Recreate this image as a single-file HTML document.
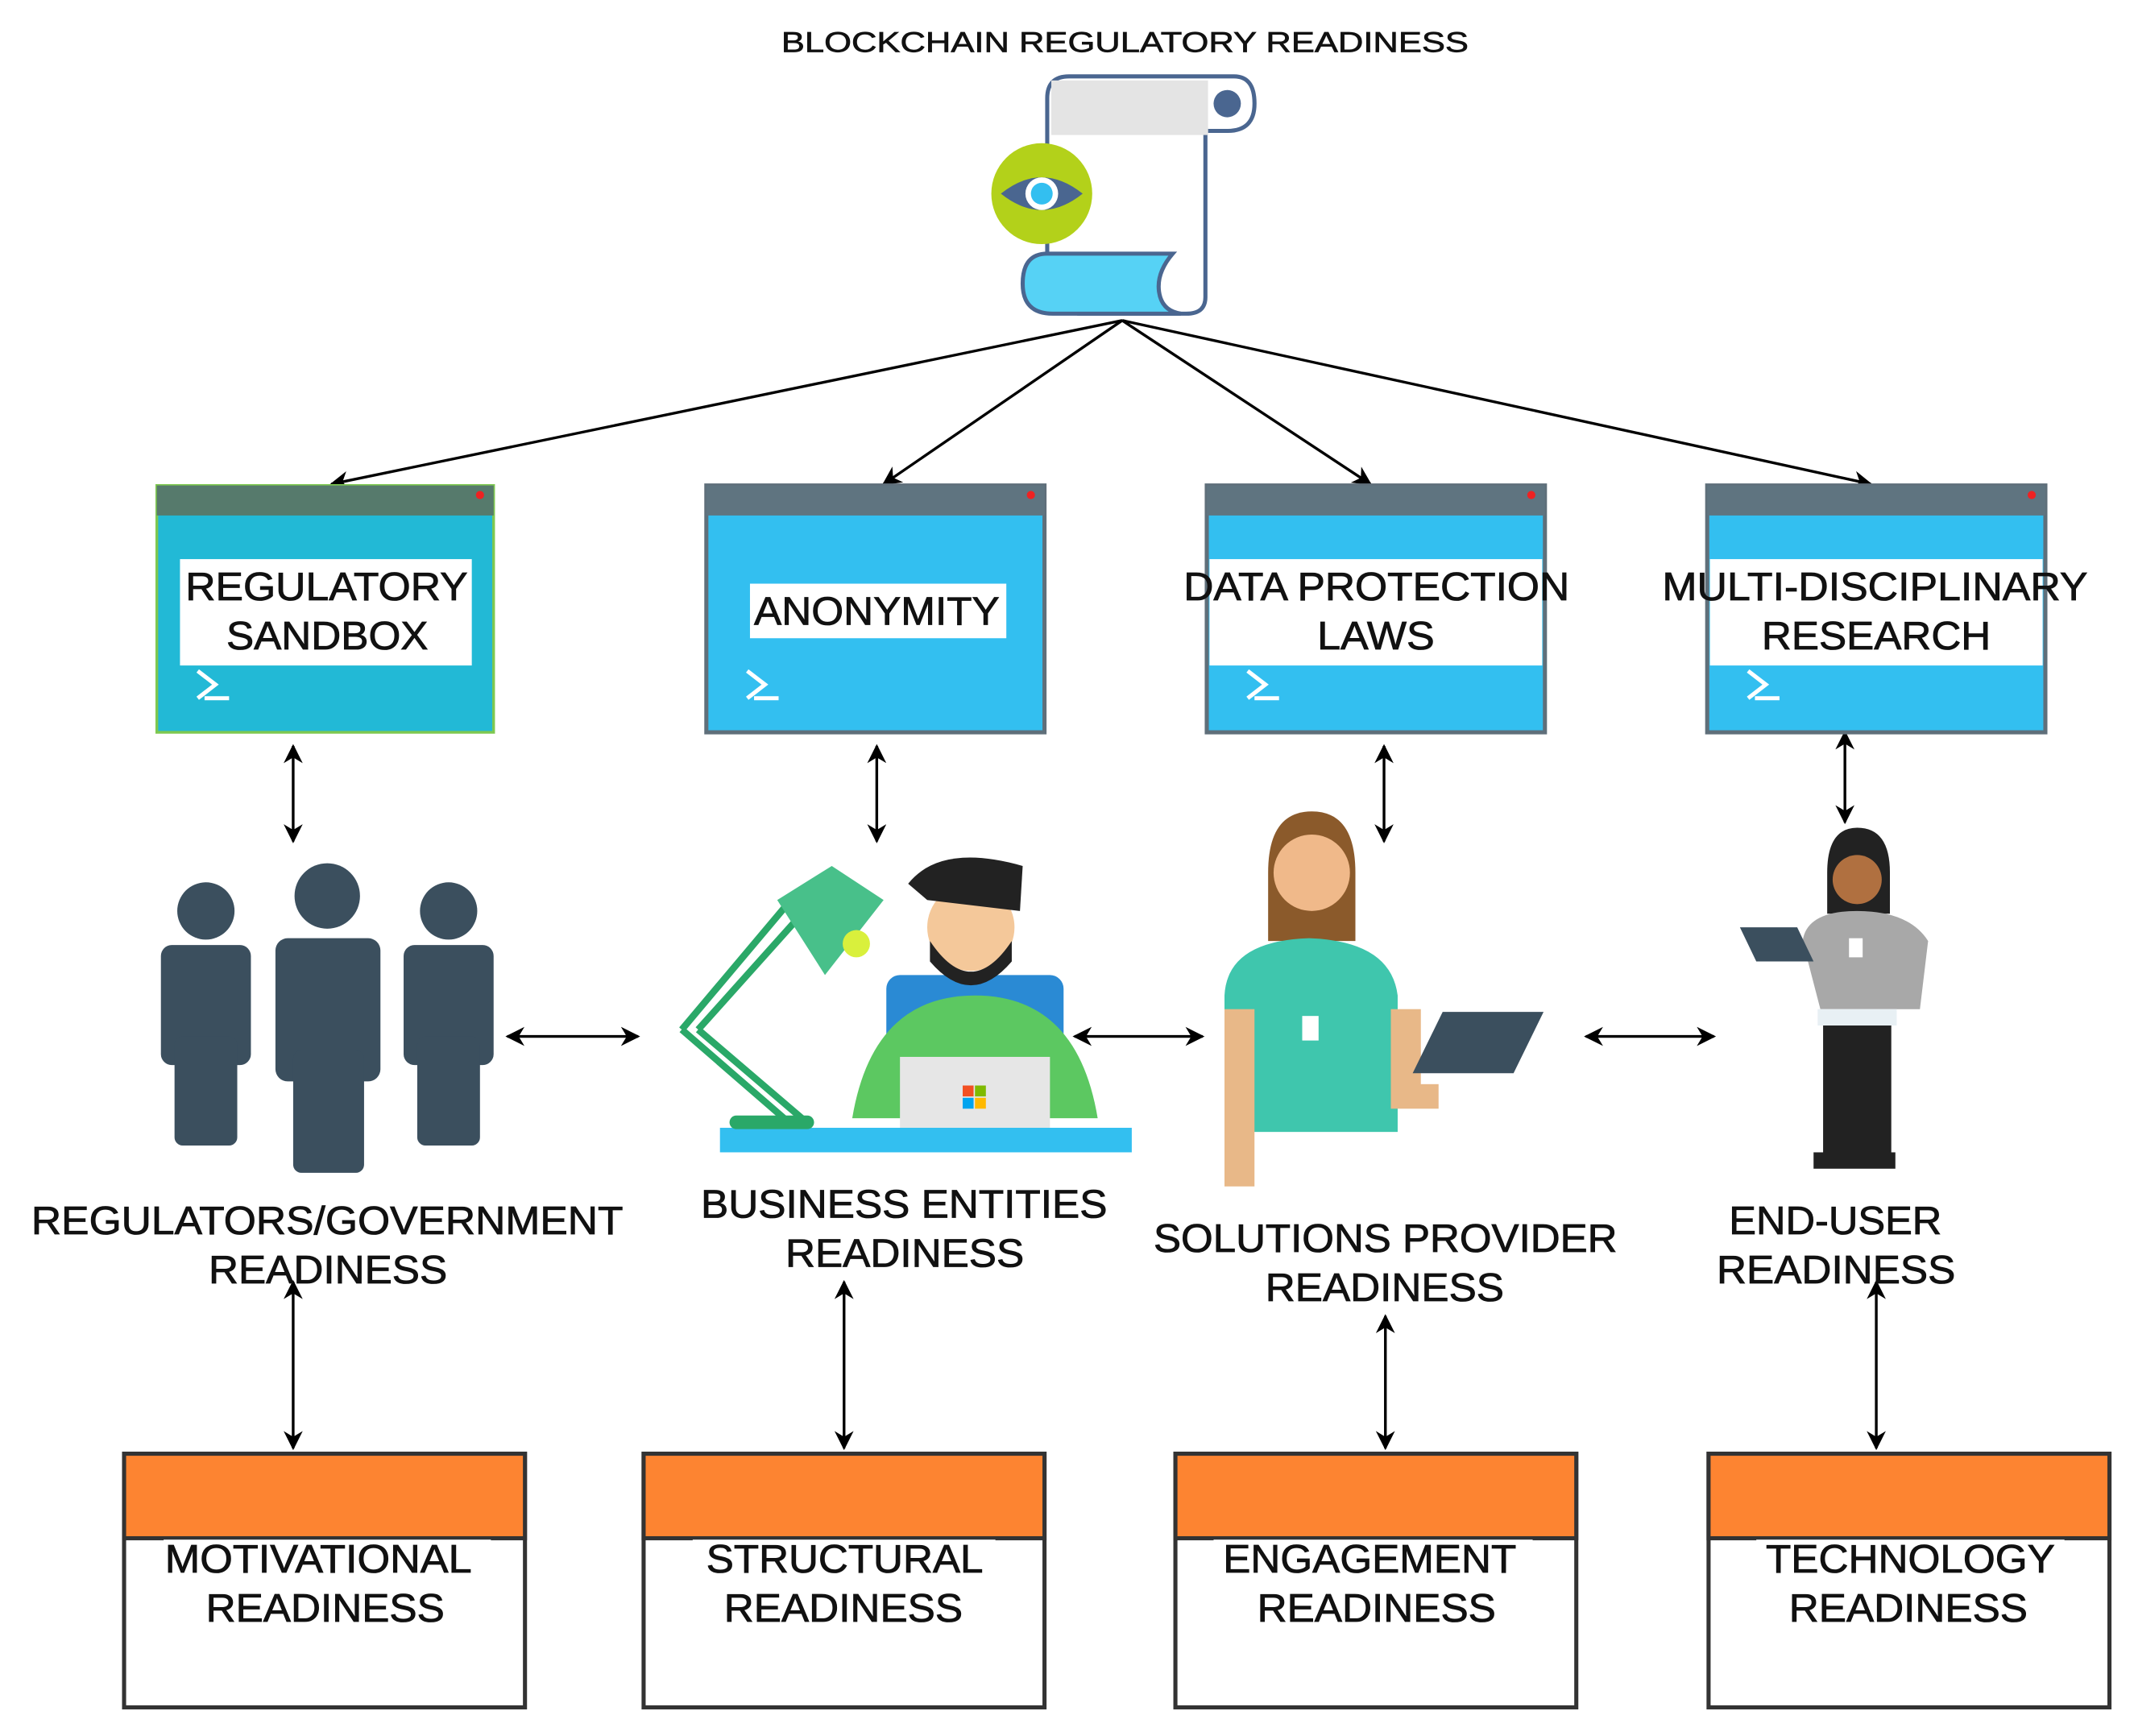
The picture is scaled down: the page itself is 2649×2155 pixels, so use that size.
<!DOCTYPE html>
<html><head><meta charset="utf-8"><style>html,body{margin:0;padding:0;background:#fff}svg{display:block}</style></head>
<body>
<svg width="2649" height="2155" viewBox="0 0 1565 1273" preserveAspectRatio="none" xmlns="http://www.w3.org/2000/svg" font-family="Liberation Sans, sans-serif">
<defs>
<marker id="a" viewBox="0 0 10 10" refX="9" refY="5" markerWidth="7" markerHeight="7" orient="auto-start-reverse"><path d="M0,0 L10,5 L0,10 L3,5 z" fill="#000"/></marker>
</defs>
<rect width="1565" height="1273" fill="#fff"/>
<text x="573" y="38" font-size="21" textLength="504" lengthAdjust="spacingAndGlyphs" fill="#111" stroke="#111" stroke-width="0.4">BLOCKCHAIN REGULATORY READINESS</text>
<!-- scroll -->
<path d="M768,218 V72 Q768,56 784,56 H905 Q920,56 920,76 Q920,96 900,96 H884 V218 Q884,230 870,230 H790" fill="#fff" stroke="#4a6690" stroke-width="3"/>
<rect x="771" y="59" width="115" height="40" fill="#e4e4e4"/>
<path d="M886,59 H905 Q917,59 917,76 Q917,93 900,93 H886 z" fill="#fff"/>
<circle cx="900" cy="76" r="10" fill="#4a6690"/>
<path d="M768,186 H860 Q848,200 850,214 Q852,228 866,230 H772 Q750,230 750,208 Q750,186 768,186 z" fill="#56d2f5" stroke="#4a6690" stroke-width="3"/>
<circle cx="764" cy="142" r="37" fill="#b3d11a"/>
<path d="M734,142 Q764,118 794,142 Q764,166 734,142 z" fill="#4a6690"/>
<circle cx="764" cy="142" r="12" fill="#fff"/><circle cx="764" cy="142" r="8" fill="#33bff0"/>
<g stroke="#000" stroke-width="2" fill="none" marker-end="url(#a)">
<line x1="823" y1="235" x2="243" y2="355"/><line x1="823" y1="235" x2="648" y2="355"/>
<line x1="823" y1="235" x2="1005" y2="355"/><line x1="823" y1="235" x2="1372" y2="355"/>
<line x1="215" y1="547" x2="215" y2="617" marker-start="url(#a)"/>
<line x1="643" y1="547" x2="643" y2="617" marker-start="url(#a)"/>
<line x1="1015" y1="547" x2="1015" y2="617" marker-start="url(#a)"/>
<line x1="1353" y1="537" x2="1353" y2="603" marker-start="url(#a)"/>
<line x1="372" y1="760" x2="468" y2="760" marker-start="url(#a)"/>
<line x1="788" y1="760" x2="882" y2="760" marker-start="url(#a)"/>
<line x1="1163" y1="760" x2="1257" y2="760" marker-start="url(#a)"/>
<line x1="215" y1="940" x2="215" y2="1062" marker-start="url(#a)"/>
<line x1="619" y1="940" x2="619" y2="1062" marker-start="url(#a)"/>
<line x1="1016" y1="965" x2="1016" y2="1062" marker-start="url(#a)"/>
<line x1="1376" y1="940" x2="1376" y2="1062" marker-start="url(#a)"/>
</g>
<g>
<rect x="115" y="356" width="247" height="181" fill="#22b9d6" stroke="#7ec850" stroke-width="2"/>
<rect x="115" y="356" width="247" height="22" fill="#567a6c"/>
<rect x="518" y="356" width="248" height="181" fill="#33bff0" stroke="#5f6f7a" stroke-width="3"/>
<rect x="518" y="356" width="248" height="22" fill="#5f7480"/>
<rect x="885" y="356" width="248" height="181" fill="#33bff0" stroke="#5f6f7a" stroke-width="3"/>
<rect x="885" y="356" width="248" height="22" fill="#5f7480"/>
<rect x="1252" y="356" width="248" height="181" fill="#33bff0" stroke="#5f6f7a" stroke-width="3"/>
<rect x="1252" y="356" width="248" height="22" fill="#5f7480"/>
<circle cx="352" cy="363" r="3" fill="#e22"/><circle cx="756" cy="363" r="3" fill="#e22"/><circle cx="1123" cy="363" r="3" fill="#e22"/><circle cx="1490" cy="363" r="3" fill="#e22"/>
<rect x="132" y="410" width="214" height="78" fill="#fff"/>
<rect x="550" y="428" width="188" height="40" fill="#fff"/>
<rect x="887" y="410" width="244" height="78" fill="#fff"/>
<rect x="1254" y="410" width="244" height="78" fill="#fff"/>
<g stroke="#fff" stroke-width="3" fill="none">
<path d="M145,492 L158,502 L145,512 M150,512 H168"/><path d="M548,492 L561,502 L548,512 M553,512 H571"/>
<path d="M915,492 L928,502 L915,512 M920,512 H938"/><path d="M1282,492 L1295,502 L1282,512 M1287,512 H1305"/>
</g>
</g>
<g font-size="29" fill="#111" stroke="#111" stroke-width="0.5" lengthAdjust="spacingAndGlyphs">
<text x="136" y="440" textLength="207" lengthAdjust="spacingAndGlyphs">REGULATORY</text><text x="166" y="476" textLength="148" lengthAdjust="spacingAndGlyphs">SANDBOX</text>
<text x="553" y="458" textLength="180" lengthAdjust="spacingAndGlyphs">ANONYMITY</text>
<text x="868" y="440" textLength="283" lengthAdjust="spacingAndGlyphs">DATA PROTECTION</text><text x="966" y="476" textLength="86" lengthAdjust="spacingAndGlyphs">LAWS</text>
<text x="1219" y="440" textLength="312" lengthAdjust="spacingAndGlyphs">MULTI-DISCIPLINARY</text><text x="1292" y="476" textLength="168" lengthAdjust="spacingAndGlyphs">RESEARCH</text>
</g>
<g fill="#3b4f5e">
<circle cx="151" cy="668" r="21"/><rect x="118" y="693" width="66" height="88" rx="8"/><rect x="128" y="760" width="46" height="80" rx="6"/>
<circle cx="240" cy="657" r="24"/><rect x="202" y="688" width="77" height="105" rx="9"/><rect x="215" y="770" width="52" height="90" rx="6"/>
<circle cx="329" cy="668" r="21"/><rect x="296" y="693" width="66" height="88" rx="8"/><rect x="306" y="760" width="46" height="80" rx="6"/>
</g>
<g>
<path d="M500,755 L580,660 M512,755 L590,668 M500,755 L575,820 M512,755 L588,820" stroke="#2aa868" stroke-width="5" fill="none"/>
<polygon points="570,660 610,635 648,660 605,715" fill="#48c08a"/>
<circle cx="628" cy="692" r="10" fill="#d9f03c"/>
<rect x="650" y="715" width="130" height="90" rx="10" fill="#2a8ad4"/>
<path d="M625,820 Q640,730 715,730 Q790,730 805,820 z" fill="#5cc861"/>
<circle cx="712" cy="680" r="32" fill="#f4c89a"/>
<path d="M682,690 Q712,735 742,690 L742,705 Q712,740 682,705 z" fill="#222"/>
<path d="M666,648 Q690,618 750,635 L748,668 L680,660 z" fill="#222"/>
<rect x="660" y="775" width="110" height="52" fill="#e6e6e6"/>
<rect x="706" y="796" width="8" height="8" fill="#f25022"/><rect x="715" y="796" width="8" height="8" fill="#7fba00"/><rect x="706" y="805" width="8" height="8" fill="#00a4ef"/><rect x="715" y="805" width="8" height="8" fill="#ffb900"/>
<rect x="528" y="827" width="302" height="18" fill="#33bff0"/>
<rect x="535" y="818" width="62" height="10" rx="5" fill="#2aa868"/>
</g>
<g>
<path d="M930,640 Q930,595 962,595 Q994,595 994,640 L994,690 L930,690 z" fill="#8b5a2b"/>
<circle cx="962" cy="640" r="28" fill="#f0b98a"/>
<path d="M898,730 Q900,690 960,688 Q1020,690 1025,730 L1025,830 L898,830 z" fill="#3fc6ad"/>
<rect x="898" y="740" width="22" height="130" fill="#e8b888"/>
<rect x="1020" y="740" width="22" height="70" fill="#e8b888"/>
<rect x="1020" y="795" width="35" height="18" fill="#e8b888"/>
<polygon points="1058,742 1132,742 1110,787 1036,787" fill="#3b4f5e"/>
<rect x="955" y="745" width="12" height="18" fill="#fff"/>
</g>
<g>
<path d="M1340,640 Q1340,607 1362,607 Q1386,607 1386,640 L1386,670 L1340,670 z" fill="#222"/>
<circle cx="1362" cy="645" r="18" fill="#b07040"/>
<path d="M1322,690 Q1325,668 1362,668 Q1400,668 1414,690 L1408,740 L1335,740 z" fill="#a8a8a8"/>
<rect x="1333" y="740" width="58" height="12" fill="#e8f0f4"/>
<rect x="1337" y="752" width="50" height="95" fill="#222"/>
<rect x="1330" y="845" width="60" height="12" fill="#222"/>
<polygon points="1276,680 1318,680 1330,705 1288,705" fill="#3b4f5e"/>
<rect x="1356" y="688" width="10" height="14" fill="#fff"/>
</g>
<g font-size="29" fill="#111" stroke="#111" stroke-width="0.5">
<text x="23" y="905" textLength="434" lengthAdjust="spacingAndGlyphs">REGULATORS/GOVERNMENT</text><text x="153" y="941" textLength="175" lengthAdjust="spacingAndGlyphs">READINESS</text>
<text x="514" y="893" textLength="298" lengthAdjust="spacingAndGlyphs">BUSINESS ENTITIES</text><text x="576" y="929" textLength="175" lengthAdjust="spacingAndGlyphs">READINESS</text>
<text x="846" y="918" textLength="340" lengthAdjust="spacingAndGlyphs">SOLUTIONS PROVIDER</text><text x="928" y="954" textLength="175" lengthAdjust="spacingAndGlyphs">READINESS</text>
<text x="1268" y="905" textLength="156" lengthAdjust="spacingAndGlyphs">END-USER</text><text x="1259" y="941" textLength="175" lengthAdjust="spacingAndGlyphs">READINESS</text>
</g>
<g stroke="#333" stroke-width="3">
<rect x="91" y="1066" width="294" height="186" fill="#fff"/><rect x="91" y="1066" width="294" height="62" fill="#fd8431"/>
<rect x="472" y="1066" width="294" height="186" fill="#fff"/><rect x="472" y="1066" width="294" height="62" fill="#fd8431"/>
<rect x="862" y="1066" width="294" height="186" fill="#fff"/><rect x="862" y="1066" width="294" height="62" fill="#fd8431"/>
<rect x="1253" y="1066" width="294" height="186" fill="#fff"/><rect x="1253" y="1066" width="294" height="62" fill="#fd8431"/>
</g>
<g fill="#fff"><rect x="120" y="1129" width="240" height="70"/><rect x="508" y="1129" width="222" height="70"/><rect x="890" y="1129" width="234" height="70"/><rect x="1288" y="1129" width="226" height="70"/></g>
<g font-size="29" fill="#111" stroke="#111" stroke-width="0.5">
<text x="121" y="1153" textLength="225" lengthAdjust="spacingAndGlyphs">MOTIVATIONAL</text><text x="151" y="1189" textLength="175" lengthAdjust="spacingAndGlyphs">READINESS</text>
<text x="518" y="1153" textLength="203" lengthAdjust="spacingAndGlyphs">STRUCTURAL</text><text x="531" y="1189" textLength="175" lengthAdjust="spacingAndGlyphs">READINESS</text>
<text x="897" y="1153" textLength="215" lengthAdjust="spacingAndGlyphs">ENGAGEMENT</text><text x="922" y="1189" textLength="175" lengthAdjust="spacingAndGlyphs">READINESS</text>
<text x="1295" y="1153" textLength="212" lengthAdjust="spacingAndGlyphs">TECHNOLOGY</text><text x="1312" y="1189" textLength="175" lengthAdjust="spacingAndGlyphs">READINESS</text>
</g>
</svg>
</body></html>
